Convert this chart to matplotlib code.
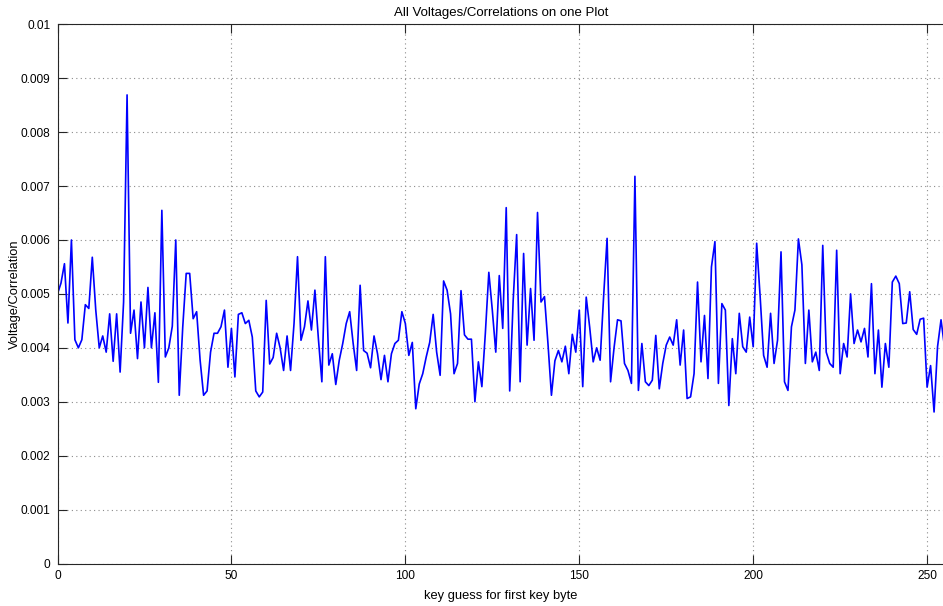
import matplotlib
matplotlib.use("Agg")
import matplotlib.pyplot as plt
import numpy as np

# key guesses 0..255 and the corresponding voltage/correlation (x 1e-3)
key_guess = list(range(256))
corr_milli = [
    5.0, 5.2, 5.56, 4.46, 6.0, 4.15, 4.0, 4.15, 4.8, 4.73,
    5.68, 4.7, 4.0, 4.22, 3.92, 4.63, 3.75, 4.63, 3.55, 4.85,
    8.69, 4.27, 4.7, 3.8, 4.85, 4.0, 5.12, 4.0, 4.65, 3.36,
    6.55, 3.83, 4.0, 4.4, 6.0, 3.12, 4.38, 5.38, 5.38, 4.54,
    4.67, 3.77, 3.12, 3.2, 3.92, 4.27, 4.27, 4.39, 4.7, 3.64,
    4.36, 3.46, 4.62, 4.65, 4.45, 4.51, 4.2, 3.2, 3.09, 3.18,
    4.88, 3.7, 3.82, 4.27, 4.0, 3.58, 4.22, 3.58, 4.45, 5.69,
    4.14, 4.39, 4.87, 4.33, 5.07, 4.17, 3.37, 5.69, 3.68, 3.89,
    3.32, 3.77, 4.08, 4.45, 4.67, 4.08, 3.58, 5.16, 3.95, 3.9,
    3.63, 4.22, 3.89, 3.41, 3.86, 3.37, 3.89, 4.08, 4.14, 4.67,
    4.45, 3.86, 4.1, 2.87, 3.33, 3.52, 3.83, 4.1, 4.62, 3.92,
    3.49, 5.24, 5.07, 4.63, 3.52, 3.71, 5.06, 4.24, 4.16, 4.16,
    3.0, 3.74, 3.28, 4.27, 5.4, 4.7, 3.92, 5.34, 4.36, 6.6,
    3.2, 4.88, 6.1, 3.37, 5.75, 4.05, 5.1, 4.14, 6.51, 4.85,
    4.95, 4.08, 3.12, 3.76, 3.95, 3.74, 4.03, 3.52, 4.25, 3.92,
    4.7, 3.28, 4.94, 4.38, 3.74, 4.0, 3.77, 4.95, 6.03, 3.37,
    4.0, 4.52, 4.5, 3.71, 3.58, 3.34, 7.18, 3.21, 4.08, 3.37,
    3.3, 3.4, 4.23, 3.24, 3.71, 4.05, 4.2, 4.05, 4.52, 3.68,
    4.33, 3.06, 3.09, 3.52, 5.22, 3.74, 4.6, 3.43, 5.5, 5.97,
    3.34, 4.82, 4.7, 2.93, 4.17, 3.52, 4.64, 4.02, 3.92, 4.57,
    4.02, 5.94, 4.95, 3.86, 3.64, 4.64, 3.71, 4.14, 5.78, 3.37,
    3.21, 4.39, 4.7, 6.02, 5.54, 3.71, 4.7, 3.74, 3.92, 3.58,
    5.9, 3.92, 3.71, 3.64, 5.81, 3.52, 4.08, 3.83, 5.0, 4.08,
    4.33, 4.11, 4.36, 3.83, 5.19, 3.52, 4.33, 3.27, 4.08, 3.64,
    5.22, 5.33, 5.19, 4.45, 4.46, 5.04, 4.34, 4.25, 4.53, 4.55,
    3.27, 3.67, 2.81, 4.02, 4.52, 4.02,
]
corr = [v / 1000.0 for v in corr_milli]

x_ticks = [0, 50, 100, 150, 200, 250]
y_ticks = [0, 0.001, 0.002, 0.003, 0.004, 0.005, 0.006, 0.007, 0.008, 0.009, 0.01]
y_tick_labels = ["0", "0.001", "0.002", "0.003", "0.004", "0.005",
                 "0.006", "0.007", "0.008", "0.009", "0.01"]

title = "All Voltages/Correlations on one Plot"
xlabel = "key guess for first key byte"
ylabel = "Voltage/Correlation"

plt.rcParams['font.family'] = ['Liberation Sans', 'DejaVu Sans']

fig = plt.figure(figsize=(9.43, 6.06), dpi=100)
W, H = 943.0, 606.0
left, right, top, bottom = 57.5, 944.5, 24.3, 563.5
ax_w, ax_h = right - left, bottom - top
ax = fig.add_axes([left / W, (H - bottom) / H, ax_w / W, ax_h / H])

ax.plot(key_guess, corr, color=(0, 0, 1), linewidth=1.2)

ax.set_xlim(0, 255)
ax.set_ylim(0, 0.01)
ax.set_xticks(x_ticks)
ax.set_xticklabels([str(t) for t in x_ticks])
ax.set_yticks(y_ticks)
ax.set_yticklabels(y_tick_labels)

ax.grid(True, linestyle=(0, (1, 3)), color='#8c8c8c', linewidth=0.8)
ax.tick_params(direction='in', length=6.5, width=0.8, colors='#262626',
               labelsize=8.6, labelcolor='black', top=True, right=False, pad=5)
for s in ax.spines.values():
    s.set_color('#262626')
    s.set_linewidth(0.8)

ax.set_title(title, fontsize=9.5, pad=6)
ax.set_xlabel(xlabel, fontsize=9.3)
ax.set_ylabel(ylabel, fontsize=9.3)
ax.xaxis.set_label_coords(0.5, -(590.0 - bottom) / ax_h)
ax.yaxis.set_label_coords(-(57.5 - 21.0) / ax_w, 0.5)

fig.savefig("out.png", dpi=100)
